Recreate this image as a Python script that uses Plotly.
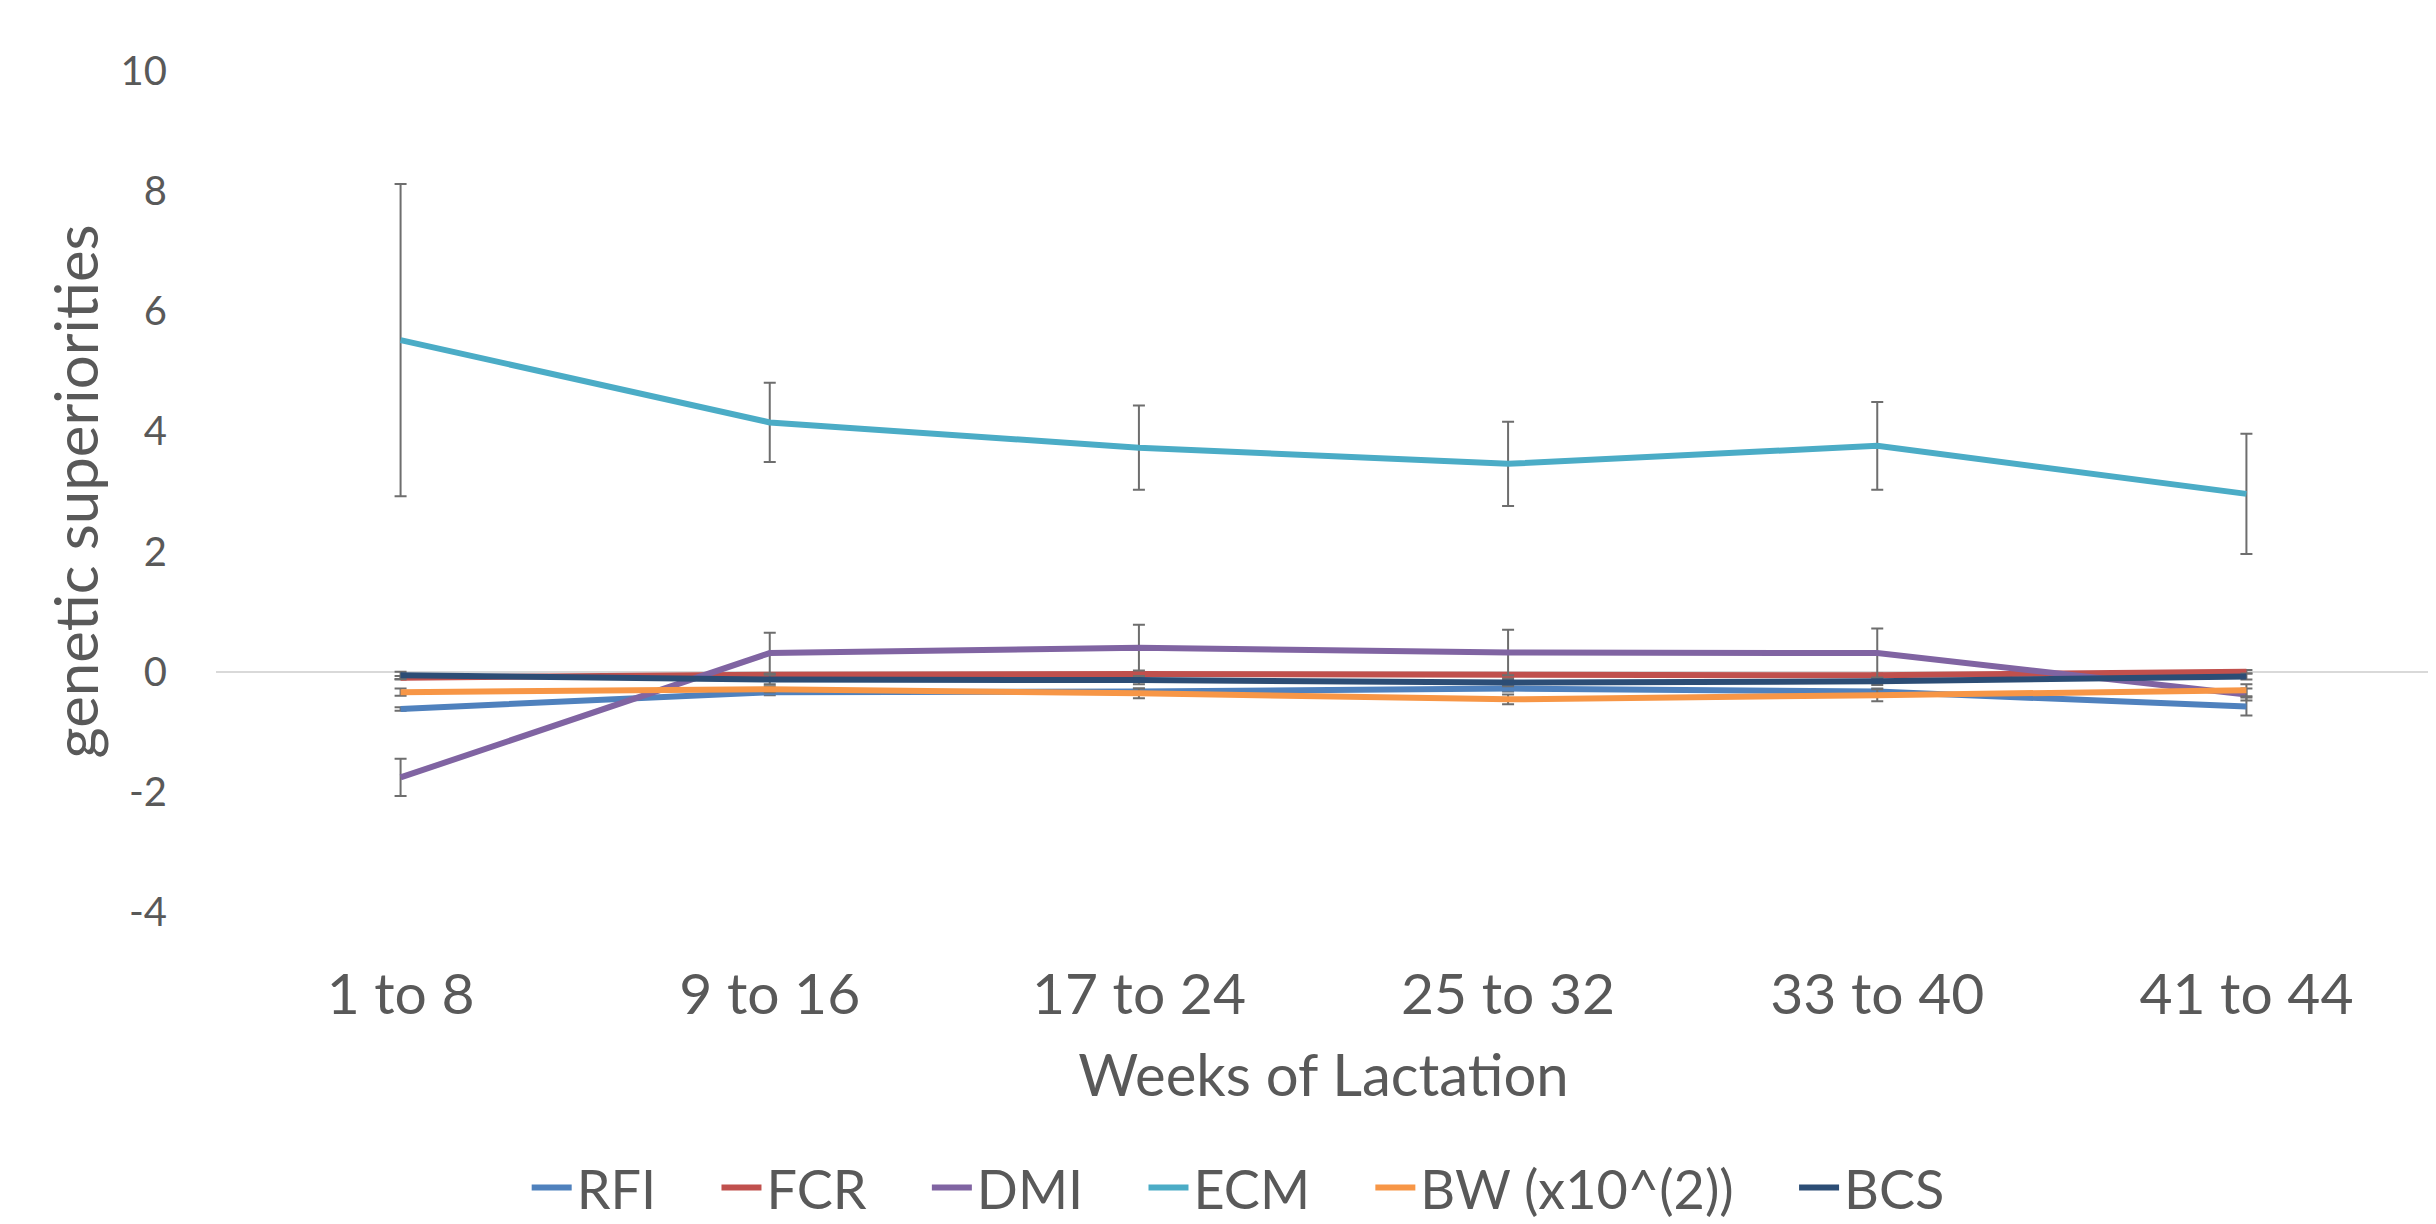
import plotly.graph_objects as go

categories = ["1 to 8", "9 to 16", "17 to 24", "25 to 32", "33 to 40", "41 to 44"]

series_names = ["RFI", "FCR", "DMI", "ECM", "BW (x10^(2))", "BCS"]

rfi = [-0.62, -0.34, -0.33, -0.28, -0.33, -0.58]
fcr = [-0.10, -0.05, -0.04, -0.06, -0.06, 0.00]
dmi = [-1.76, 0.31, 0.40, 0.32, 0.31, -0.38]
ecm = [5.52, 4.15, 3.73, 3.46, 3.76, 2.96]
bw = [-0.34, -0.29, -0.36, -0.46, -0.39, -0.31]
bcs = [-0.06, -0.13, -0.14, -0.18, -0.16, -0.08]

rfi_err = [0.03, 0.05, 0.05, 0.05, 0.05, 0.15]
fcr_err = [0.03, 0.03, 0.03, 0.03, 0.03, 0.03]
dmi_err = [0.31, 0.34, 0.38, 0.38, 0.41, 0.10]
ecm_err = [2.60, 0.66, 0.70, 0.70, 0.73, 1.00]
bw_err = [0.06, 0.05, 0.08, 0.08, 0.10, 0.10]
bcs_err = [0.06, 0.08, 0.07, 0.06, 0.06, 0.05]

y_ticks = [-4, -2, 0, 2, 4, 6, 8, 10]
y_tick_labels = ["-4", "-2", "0", "2", "4", "6", "8", "10"]

colors = ["#4F81BD", "#C0504D", "#8064A2", "#4BACC6", "#F79646", "#2C4D75"]
values = [rfi, fcr, dmi, ecm, bw, bcs]
errors = [rfi_err, fcr_err, dmi_err, ecm_err, bw_err, bcs_err]

fig = go.Figure()
for i, (name, vals, errs, col) in enumerate(zip(series_names, values, errors, colors)):
    label = name if i == len(series_names) - 1 else name + "\u00a0\u00a0\u00a0\u00a0"
    fig.add_trace(go.Scatter(
        x=categories, y=vals, name=label, mode="lines",
        line=dict(color=col, width=6),
        error_y=dict(type="data", array=errs, visible=True,
                     color="#6E6E6E", thickness=2, width=6),
    ))

fig.update_layout(
    width=2436, height=1224,
    margin=dict(l=208, r=13, t=63, b=320, autoexpand=False),
    paper_bgcolor="white", plot_bgcolor="white",
    font=dict(family="Lato, Open Sans, sans-serif", color="#595959"),
    showlegend=True,
    legend=dict(orientation="h", xref="container", x=0.505, xanchor="center",
                yref="container", y=0.036, yanchor="middle",
                font=dict(size=54, color="#595959"), itemwidth=40,
                traceorder="normal"),
)
fig.update_xaxes(
    type="category", range=[-0.5, 5.5], automargin=False,
    showgrid=False, showline=False, zeroline=False, ticks="",
    tickfont=dict(size=57, color="#595959"),
    ticklabelstandoff=44,
    title=dict(text="Weeks of Lactation", font=dict(size=58, color="#595959"), standoff=30),
)
fig.update_yaxes(
    range=[-4, 10], tickvals=y_ticks, ticktext=y_tick_labels, automargin=False,
    showgrid=False, zeroline=True, zerolinecolor="#D9D9D9", zerolinewidth=2,
    showline=False, ticks="",
    tickfont=dict(size=40, color="#595959", family="Lato, sans-serif"),
    ticklabelstandoff=48,
    title=dict(text="genetic superiorities", font=dict(size=60, color="#595959"), standoff=2),
)

fig.write_html("out.html")
